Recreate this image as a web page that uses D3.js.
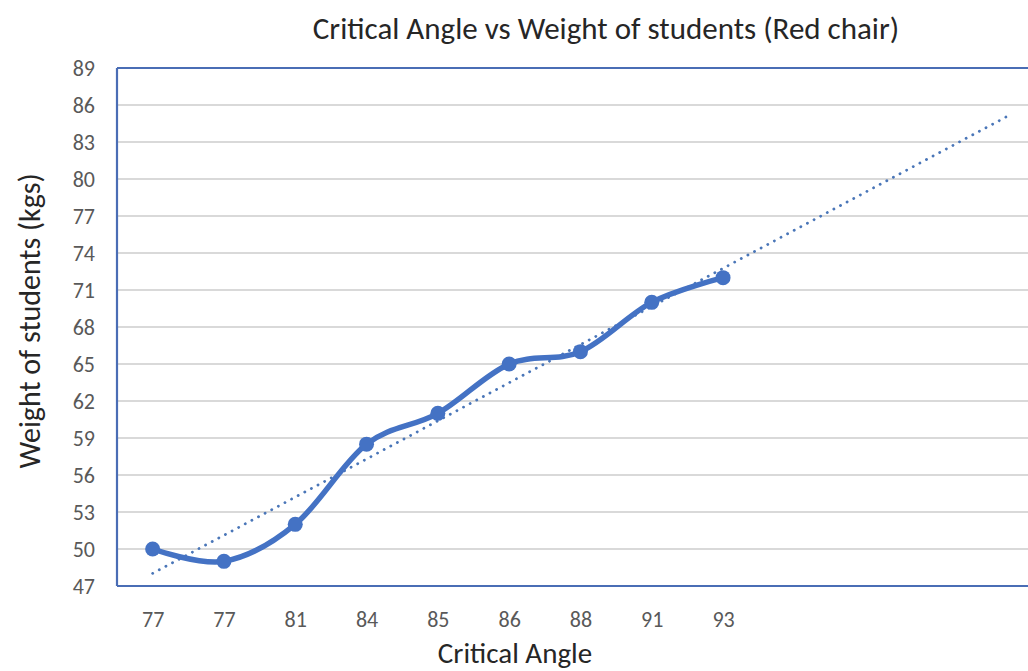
<!DOCTYPE html>
<html>
<head>
<meta charset="utf-8">
<script src="https://cdn.jsdelivr.net/npm/d3@7"></script>
<style>
  html, body { margin: 0; padding: 0; background: #fff; }
  svg { display: block; font-family: Carlito, Lato, "Open Sans", sans-serif; }
</style>
</head>
<body>
<svg id="chart" width="1028" height="671"></svg>
<script>
// Critical angle readings (x categories) and matching student weights
const angles = ["77", "77", "81", "84", "85", "86", "88", "91", "93"];
const weights = [50, 49, 52, 58.5, 61, 65, 66, 70, 72];
// Linear trendline is projected forward this many periods
const forecastPeriods = 4;
const yTicks = [47, 50, 53, 56, 59, 62, 65, 68, 71, 74, 77, 80, 83, 86, 89];

const svg = d3.select("#chart");
const W = 1028, H = 671;
const margin = { left: 117, top: 68, bottom: 85 };
const step = 71.3;
const nSlots = angles.length + forecastPeriods;
const plotRight = margin.left + step * nSlots;
const plotBottom = H - margin.bottom;
const fontStack = "Carlito, Lato, 'Open Sans', sans-serif";

const slots = d3.range(nSlots);
const x = d3.scalePoint().domain(slots).range([margin.left, plotRight]).padding(0.5);
const y = d3.scaleLinear().domain([47, 89]).range([plotBottom, margin.top]);

const blue = "#4472C4";

// Horizontal gridlines
svg.append("g")
  .selectAll("line")
  .data(yTicks.slice(1))
  .join("line")
  .attr("x1", margin.left).attr("x2", plotRight)
  .attr("y1", d => y(d)).attr("y2", d => y(d))
  .attr("stroke", "#d9d9d9").attr("stroke-width", 1.8);

// Y axis tick labels
const yAxis = svg.append("g")
  .attr("transform", `translate(${margin.left},0)`)
  .call(d3.axisLeft(y).tickValues(yTicks).tickSize(0).tickPadding(22));
yAxis.select(".domain").remove();
yAxis.attr("font-size", null).attr("font-family", null);
yAxis.selectAll("text")
  .attr("fill", "#595959").style("font-size", "22px")
  .style("font-family", fontStack);

// X axis category labels
const xAxis = svg.append("g")
  .attr("transform", `translate(0,${plotBottom})`)
  .call(d3.axisBottom(x).tickSize(0).tickPadding(25)
    .tickFormat(i => i < angles.length ? angles[i] : ""));
xAxis.select(".domain").remove();
xAxis.attr("font-size", null).attr("font-family", null);
xAxis.selectAll("text")
  .attr("fill", "#595959").style("font-size", "22px")
  .style("font-family", fontStack);

// Plot area frame (left, top, bottom)
const frame = svg.append("g").attr("stroke", "#4a6db5").attr("stroke-width", 2.2).attr("fill", "none");
frame.append("line").attr("x1", margin.left).attr("x2", margin.left).attr("y1", margin.top).attr("y2", plotBottom);
frame.append("line").attr("x1", margin.left).attr("x2", plotRight).attr("y1", margin.top).attr("y2", margin.top);
frame.append("line").attr("x1", margin.left).attr("x2", plotRight).attr("y1", plotBottom).attr("y2", plotBottom);

// Least-squares trendline on period index
const idx = weights.map((_, i) => i + 1);
const mx = d3.mean(idx), my = d3.mean(weights);
const slope = d3.sum(idx, (v, i) => (v - mx) * (weights[i] - my)) / d3.sum(idx, v => (v - mx) ** 2);
const intercept = my - slope * mx;
const trendPts = [0, nSlots - 1].map(i => [x(i), y(intercept + slope * (i + 1))]);
svg.append("path")
  .attr("d", d3.line()(trendPts))
  .attr("fill", "none")
  .attr("stroke", "#4a76b8")
  .attr("stroke-width", 2.8)
  .attr("stroke-linecap", "round")
  .attr("stroke-dasharray", "0.1 7.4");

// Smoothed data line
const pts = weights.map((w, i) => [x(i), y(w)]);
svg.append("path")
  .attr("d", d3.line().curve(d3.curveCardinal.tension(0))(pts))
  .attr("fill", "none")
  .attr("stroke", blue)
  .attr("stroke-width", 5.5)
  .attr("stroke-linejoin", "round");

// Markers
svg.append("g")
  .selectAll("circle")
  .data(pts)
  .join("circle")
  .attr("cx", d => d[0]).attr("cy", d => d[1])
  .attr("r", 7.5)
  .attr("fill", blue);

// Titles
svg.append("text")
  .attr("x", 606).attr("y", 39)
  .attr("text-anchor", "middle")
  .attr("fill", "#262626")
  .style("font-size", "31px")
  .text("Critical Angle vs Weight of students (Red chair)");

svg.append("text")
  .attr("x", 515).attr("y", 663)
  .attr("text-anchor", "middle")
  .attr("fill", "#262626")
  .style("font-size", "29px")
  .text("Critical Angle");

svg.append("text")
  .attr("transform", `translate(40,321) rotate(-90)`)
  .attr("text-anchor", "middle")
  .attr("fill", "#262626")
  .style("font-size", "30px")
  .text("Weight of students (kgs)");
</script>
</body>
</html>
